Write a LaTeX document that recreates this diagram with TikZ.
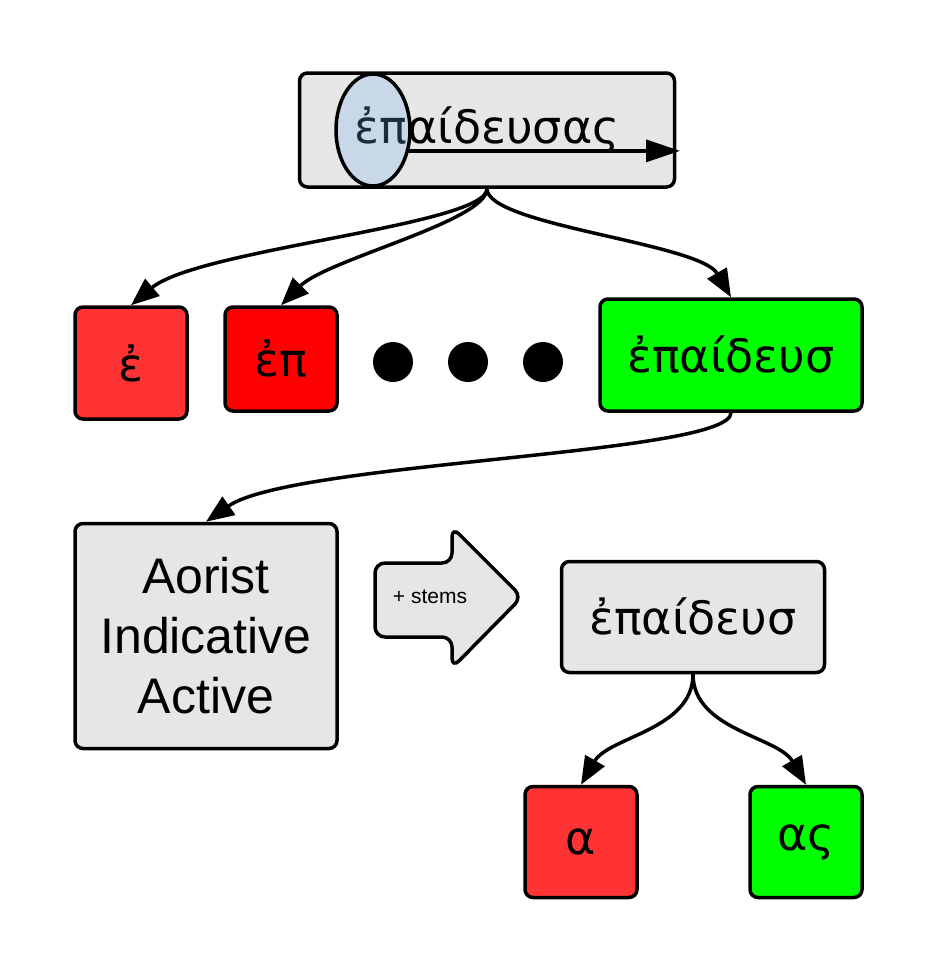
\documentclass[tikz,border=0pt]{standalone}
\usepackage{fontspec}
\setmainfont{Liberation Sans}
\newfontfamily\greekfont{DejaVu Sans}
\usetikzlibrary{arrows.meta,calc,positioning,shapes.geometric}
\definecolor{boxgray}{RGB}{230,230,230}
\definecolor{lightred}{RGB}{255,51,51}
\definecolor{fullred}{RGB}{255,0,0}
\definecolor{fullgreen}{RGB}{0,255,0}
\definecolor{markblue}{RGB}{114,178,238}
\begin{document}
\begin{tikzpicture}[x=1pt,y=-1pt,line width=3.5pt,
    box/.style={draw,rounded corners=8pt,inner sep=0pt,font=\greekfont\fontsize{46}{52}\selectfont},
    a/.style={-{Triangle[length=28pt,width=22pt]}}]
  \useasboundingbox (0,0) rectangle (938,975);
  % the whole form and its split points
  \node[box,fill=boxgray,minimum width=375pt,minimum height=114pt] (word) at (487,130) {ἐπαίδευσας};
  \node[draw,ellipse,inner sep=0pt,fill=markblue,fill opacity=.25,minimum width=74pt,minimum height=112pt] (mark) at (373,130) {};
  \coordinate (tip) at (680,150);
  \draw[-{Triangle[length=34pt,width=22pt]}] (mark.-30) -- (mark.-30 -| tip);
  \node[box,fill=lightred,minimum width=112pt,minimum height=112pt] (e1) at (131,363) {ἐ};
  \node[box,fill=fullred,minimum width=112pt,minimum height=104pt] (e2) at (281,359) {ἐπ};
  \foreach \x in {393,468,543} \fill (\x,362) circle (20pt);
  \node[box,fill=fullgreen,minimum width=262pt,minimum height=112pt] (stem) at (731,355) {ἐπαίδευσ};
  \draw[a] (word.south) to[out=-90,in=40,out looseness=.25,in looseness=.6] (e1.north);
  \draw[a] (word.south) to[out=-90,in=45,out looseness=.35,in looseness=.7] (e2.north);
  \draw[a] (word.south) to[out=-90,in=120,out looseness=.35,in looseness=.6] (stem.north);
  % lookup of the ending
  \node[box,fill=boxgray,minimum width=262pt,minimum height=225pt,align=center,font=\fontsize{50}{60}\selectfont] (tense) at (206,636) {Aorist\\Indicative\\Active};
  \draw[a] (stem.south) to[out=-90,in=35,out looseness=.2,in looseness=.5] (tense.north);
  \draw[fill=boxgray,rounded corners=10pt] (375,563) -- (452,563) -- (452,527) -- (522,597) -- (452,668) -- (452,637) -- (375,637) -- cycle;
  \node[font=\fontsize{21}{25}\selectfont] (plus) at (430,597) {+ stems};
  \node[box,fill=boxgray,minimum width=263pt,minimum height=111pt] (stemb) at (693,617) {ἐπαίδευσ};
  \node[box,fill=lightred,minimum width=112pt,minimum height=111pt] (end1) at (581,842) {α};
  \node[box,fill=fullgreen,minimum width=112pt,minimum height=111pt] (end2) at (806,842) {ας};
  \draw[a] (stemb.south) to[out=-90,in=60,looseness=.9] (end1.north);
  \draw[a] (stemb.south) to[out=-90,in=120,looseness=.9] (end2.north);
\end{tikzpicture}
\end{document}
